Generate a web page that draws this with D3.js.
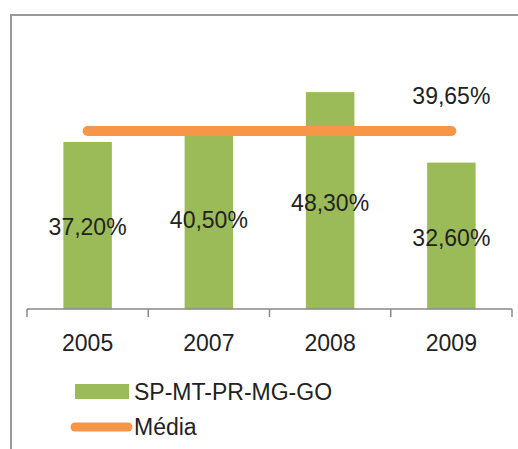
<!DOCTYPE html>
<html>
<head>
<meta charset="utf-8">
<script src="https://cdn.jsdelivr.net/npm/d3@7"></script>
<style>
  body { margin: 0; background: #fff; }
  svg { display: block; font-family: "Liberation Sans", Arial, sans-serif; }
</style>
</head>
<body>
<div id="chart"></div>
<script>
// chart data
var categories = ["2005", "2007", "2008", "2009"];
var values = [37.2, 40.5, 48.3, 32.6];
var averageValue = 39.65;
var seriesName = "SP-MT-PR-MG-GO";
var averageName = "Média";

var width = 518, height = 449;
var green = "#9bbb59", orange = "#f79646";

var fmt = function (v) { return v.toFixed(2).replace(".", ",") + "%"; };

var svg = d3.select("#chart").append("svg")
    .attr("width", width)
    .attr("height", height);

// chart frame (top and left edges visible)
svg.append("rect")
    .attr("x", 11).attr("y", 15)
    .attr("width", 530).attr("height", 460)
    .attr("fill", "none")
    .attr("stroke", "#999")
    .attr("stroke-width", 2);

var x = d3.scaleBand()
    .domain(categories)
    .range([27, 512])
    .paddingInner(0.6)
    .paddingOuter(0.3);

var y = d3.scaleLinear()
    .domain([0, 50])
    .range([309, 84.5]);

// bars
svg.selectAll(".bar")
    .data(values)
    .enter().append("rect")
    .attr("class", "bar")
    .attr("x", function (d, i) { return x(categories[i]); })
    .attr("y", function (d) { return y(d); })
    .attr("width", x.bandwidth())
    .attr("height", function (d) { return y(0) - y(d); })
    .attr("fill", green);

// average line from first to last bar center
var cx = function (c) { return x(c) + x.bandwidth() / 2; };
svg.append("line")
    .attr("x1", cx(categories[0]))
    .attr("x2", cx(categories[categories.length - 1]))
    .attr("y1", y(averageValue))
    .attr("y2", y(averageValue))
    .attr("stroke", orange)
    .attr("stroke-width", 10)
    .attr("stroke-linecap", "round");

// axis
var axisG = svg.append("g").attr("stroke", "#888").attr("stroke-width", 1.5);
axisG.append("line")
    .attr("x1", x.range()[0]).attr("x2", x.range()[1])
    .attr("y1", y(0)).attr("y2", y(0));
axisG.selectAll(".tick")
    .data(d3.range(categories.length + 1))
    .enter().append("line")
    .attr("x1", function (i) { return x.range()[0] + i * x.step(); })
    .attr("x2", function (i) { return x.range()[0] + i * x.step(); })
    .attr("y1", y(0)).attr("y2", y(0) + 8);

svg.selectAll(".cat")
    .data(categories)
    .enter().append("text")
    .attr("x", function (d) { return cx(d); })
    .attr("y", y(0) + 34)
    .attr("text-anchor", "middle")
    .attr("dominant-baseline", "central")
    .attr("font-size", 23)
    .attr("fill", "#222")
    .text(function (d) { return d; });

// bar value labels
svg.selectAll(".val")
    .data(values)
    .enter().append("text")
    .attr("x", function (d, i) { return cx(categories[i]); })
    .attr("y", function (d) { return (y(d) + y(0)) / 2 + 2; })
    .attr("text-anchor", "middle")
    .attr("dominant-baseline", "central")
    .attr("font-size", 23)
    .attr("fill", "#222")
    .text(function (d) { return fmt(d); });

// average label
svg.append("text")
    .attr("x", cx(categories[categories.length - 1]))
    .attr("y", y(averageValue) - 35)
    .attr("text-anchor", "middle")
    .attr("dominant-baseline", "central")
    .attr("font-size", 23)
    .attr("fill", "#222")
    .text(fmt(averageValue));

// legend
var legend = svg.append("g");
legend.append("rect")
    .attr("x", 75).attr("y", 384)
    .attr("width", 54).attr("height", 15)
    .attr("fill", green);
legend.append("text")
    .attr("x", 134).attr("y", 392)
    .attr("dominant-baseline", "central")
    .attr("font-size", 23)
    .attr("fill", "#222")
    .text(seriesName);
legend.append("line")
    .attr("x1", 75).attr("x2", 128)
    .attr("y1", 427).attr("y2", 427)
    .attr("stroke", orange)
    .attr("stroke-width", 9)
    .attr("stroke-linecap", "round");
legend.append("text")
    .attr("x", 134).attr("y", 427)
    .attr("dominant-baseline", "central")
    .attr("font-size", 23)
    .attr("fill", "#222")
    .text(averageName);
</script>
</body>
</html>
